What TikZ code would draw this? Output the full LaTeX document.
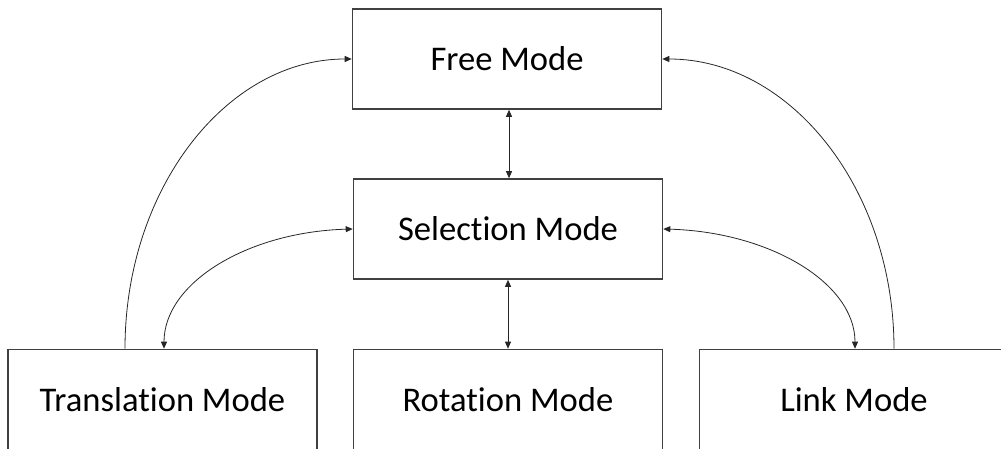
\documentclass[tikz,border=0pt]{standalone}
\usepackage{fontspec}
\setmainfont{Carlito}[Ligatures=NoCommon]
\usetikzlibrary{arrows.meta}
\definecolor{boxline}{HTML}{404040}
\definecolor{conn}{HTML}{262626}
\tikzset{
  modebox/.style={draw=boxline, line width=1.6pt, minimum width=309pt, minimum height=100pt, inner sep=0pt, font=\fontsize{34.6}{40}\selectfont, text=black},
  conn/.style={draw=conn, line width=0.8pt, -{Triangle[length=7pt,width=6pt]}},
  conn2/.style={draw=conn, line width=0.8pt, {Triangle[length=7pt,width=6pt]}-{Triangle[length=7pt,width=6pt]}}
}
\begin{document}
\begin{tikzpicture}[x=1pt,y=1pt]
\useasboundingbox (0,0) rectangle (1001,448);
\node[modebox] (free) at (507,389) {Free Mode};
\node[modebox] (sel) at (508,219) {Selection Mode};
\node[modebox] (trans) at (162.5,48.5) {Translation Mode};
\node[modebox] (rot) at (508,48.5) {Rotation Mode};
\node[modebox] (link) at (854,48.5) {Link Mode};
\draw[conn2] (free.south -| 509,0) -- (sel.north -| 509,0);
\draw[conn2] (sel.south -| 508,0) -- (rot.north -| 508,0);
\draw[conn] (125,0 |- trans.north) .. controls +(0,160) and +(-125,0) .. (free.west);
\draw[conn2] (sel.west) .. controls +(-105,-3) and +(0,66) .. (164,0 |- trans.north);
\draw[conn] (894,0 |- link.north) .. controls +(0,160) and +(128,0) .. (free.east);
\draw[conn2] (sel.east) .. controls +(106,-3) and +(0,66) .. (855,0 |- link.north);
\end{tikzpicture}
\end{document}
